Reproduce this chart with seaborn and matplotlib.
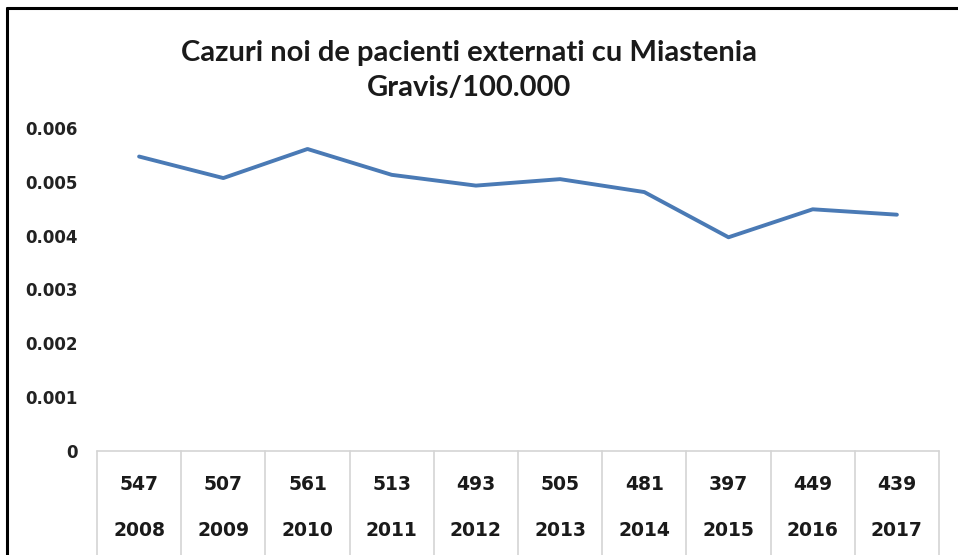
import numpy as np
import pandas as pd
import matplotlib.pyplot as plt
import seaborn as sns
from matplotlib.lines import Line2D
import matplotlib.transforms as mtransforms

years = ['2008', '2009', '2010', '2011', '2012', '2013', '2014', '2015', '2016', '2017']
cases = ['547', '507', '561', '513', '493', '505', '481', '397', '449', '439']
rate = [0.00547, 0.00507, 0.00561, 0.00513, 0.00493, 0.00505, 0.00481, 0.00397, 0.00449, 0.00439]
yticks = [0, 0.001, 0.002, 0.003, 0.004, 0.005, 0.006]
ytick_labels = ['0', '0.001', '0.002', '0.003', '0.004', '0.005', '0.006']

df = pd.DataFrame({'year': years, 'rate': rate})

sns.set_style('white')
plt.rcParams['font.family'] = ['DejaVu Sans']

fig = plt.figure(figsize=(9.58, 5.55), dpi=100)
ax = fig.add_axes([97 / 958, 104 / 555, 842 / 958, 323 / 555])

sns.lineplot(data=df, x='year', y='rate', ax=ax, color='#4a7ab5', linewidth=2.8, sort=False)

ax.set_xlim(-0.5, len(years) - 0.5)
ax.set_ylim(0, 0.006)
ax.set_yticks(yticks)
ax.set_yticklabels(ytick_labels, fontsize=12, fontweight='bold', color='#222222')
ax.set_xticks(range(len(years)))
ax.set_xticklabels([c + '\n' + y for c, y in zip(cases, years)], fontsize=13.5,
                   fontweight='bold', color='#1a1a1a', linespacing=2.85)
ax.tick_params(axis='y', length=0, pad=14)
ax.tick_params(axis='x', length=0, pad=17)
ax.set_xlabel('')
ax.set_ylabel('')
for s in ax.spines.values():
    s.set_visible(False)

# table-like grid under the axis
grid_col = '#d4d4d4'
trans = mtransforms.blended_transform_factory(ax.transData, ax.transAxes)
bottom = -104 / 323
ax.plot([-0.5, len(years) - 0.5], [0, 0], transform=trans, color=grid_col, lw=1.2, clip_on=False)
for b in np.arange(len(years) + 1) - 0.5:
    ax.plot([b, b], [0, bottom], transform=trans, color=grid_col, lw=1.2, clip_on=False)

fig.text(0.49, 0.873, 'Cazuri noi de pacienti externati cu Miastenia\nGravis/100.000',
         ha='center', va='center', multialignment='center', fontsize=21,
         fontweight='bold', family=['Lato', 'DejaVu Sans'], color='#1a1a1a', linespacing=1.42)

# outer frame (top and left edges)
fig.add_artist(Line2D([7 / 958, 1], [1 - 8 / 555, 1 - 8 / 555], color='black', lw=2.2))
fig.add_artist(Line2D([7 / 958, 7 / 958], [0, 1 - 8 / 555], color='black', lw=2.2))

fig.savefig('out.png', dpi=100)
